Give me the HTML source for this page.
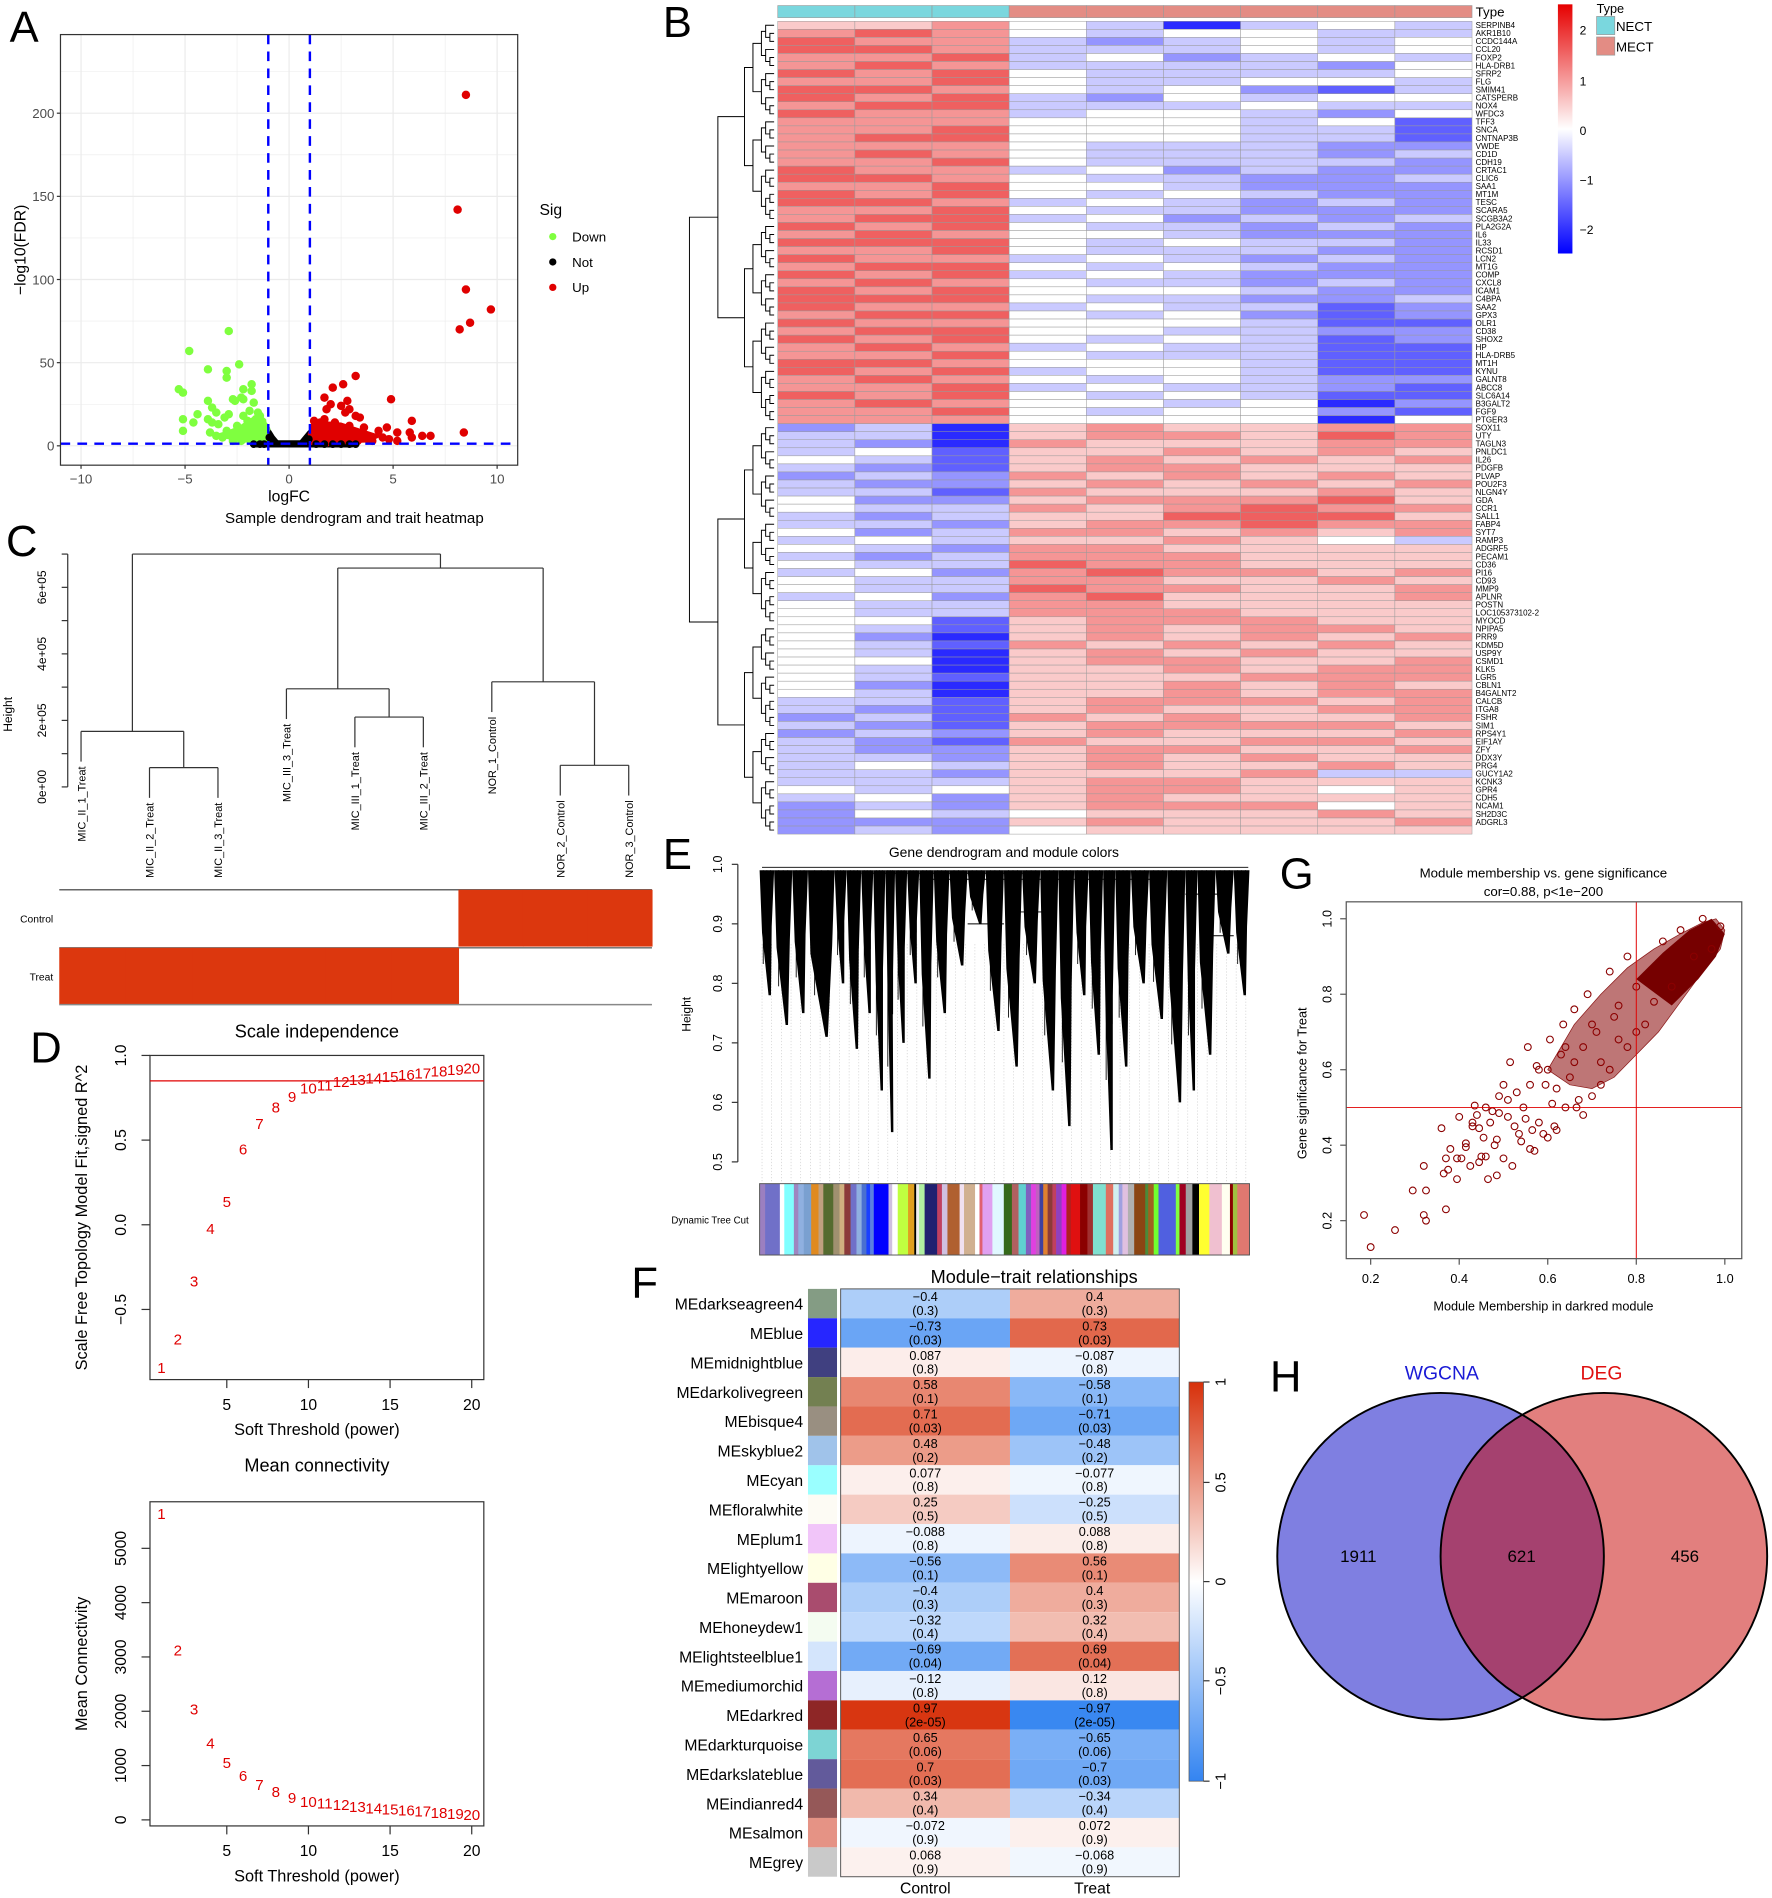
<!DOCTYPE html>
<html><head><meta charset="utf-8"><title>Multi-panel figure</title>
<style>
html,body{margin:0;padding:0;background:#fff;}
svg{display:block;font-family:"Liberation Sans",Arial,sans-serif;}
</style></head>
<body>
<svg id="fig" xmlns="http://www.w3.org/2000/svg" width="1772" height="1898" viewBox="0 0 1465 1568">
<rect x="0" y="0" width="1465" height="1568" fill="#fff"/>
<g font-size="36" fill="#000">
<text x="8" y="34">A</text>
<text x="548" y="30">B</text>
<text x="5" y="459">C</text>
<text x="25" y="878">D</text>
<text x="548" y="718">E</text>
<text x="522" y="1072">F</text>
<text x="1058" y="734">G</text>
<text x="1050" y="1150">H</text>
</g>
<g id="pA"></g>
<g id="pB"></g>
<g id="pC"></g>
<g id="pD"></g>
<g id="pD2"></g>
<g id="pE"></g>
<g id="pF"></g>
<g id="pG"></g>
<g id="pH"></g>
</svg>
<script>
// ===== DATA =====
const volcGreenX=[-2.9,-4.8,-3.9,-2.4,-3,-3,-5.3,-5.1,-1.8,-2.2,-1.8,-3.9,-2.7,-2.3,-2.2,-2.6,-1.7,-3.7,-3.5,-4.4,-5.1,-4.6,-3.9,-3.7,-3.4,-2.9,-3.1,-5.1,-3.8,-2.2,-1.9,-1.5,-1.6,-2.5,-2,-1.5,-3,-2.8,-1.3,-1.2,-1.7,-2.2,-1.4,-2.5,-1.1,-3.5,-1.8,-1.3,-1.6,-2.0,-1.2,-1.4,-1.9,-2.3,-1.1,-1.5,-2.7,-3.2,-1.3,-1.7];
const volcGreenY=[69,57,46,49,45,41,34,32,37,34,33,27,28,29,28,27,26,23,20,19,16,14,16,14,13,19,17,9,8,18,21,20,16,12,10,11,9,6,14,8,5,4,3,7,4,6,9,6,13,15,12,18,7,3,10,2,3,5,2,3];
const volcRedX=[8.5,8.1,8.5,9.7,8.7,8.2,8.4,3.2,2.6,2.1,1.7,2.8,4.9,2,2.5,2.9,2.7,1.8,3.2,3.4,5.9,3.6,4.7,4.3,5.2,5.8,5.9,6.4,6.8,4.5,1.5,1.3,1.2,2.2,1.7,2.4,3,3.8,4,1.4,2,2.7,3.3,1.1,1.8,2.5,3.1,4.8,5.2,1.2,1.6,2.3,1.4,3.6,2.9,1.9,1.1,2.6,3.9,1.3];
const volcRedY=[211,142,94,82,74,70,8,42,37,35,29,27,28,25,24,22,20,22,18,17,15,11,11,9,8,8,5,6,6,5,14,12,9,14,16,10,8,5,3,5,6,4,3,3,2,2,6,4,3,15,10,7,8,7,12,4,7,3,4,2];
const volcNotX=[-1,-0.9,-0.8,-0.7,-0.6,-0.5,-0.4,-0.3,-0.2,-0.1,0,0.1,0.2,0.3,0.4,0.5,0.6,0.7,0.8,0.9,1,-1.7,-1.4,-1.2,1.3,1.7,2.1,2.5,2.9,3.2,-0.95,0.95];
const volcNotY=[13,10,8,6,4.5,3,2,1.2,0.6,0.3,0.2,0.3,0.6,1.2,2,3,4.5,6,7.5,9,10,1,1,1,1,1,1,1,1,1,5,4];

const heatGenes=["SERPINB4","AKR1B10","CCDC144A","CCL20","FOXP2","HLA-DRB1","SFRP2","FLG","SMIM41","CATSPERB","NOX4","WFDC3","TFF3","SNCA","CNTNAP3B","VWDE","CD1D","CDH19","CRTAC1","CLIC6","SAA1","MT1M","TESC","SCARA5","SCGB3A2","PLA2G2A","IL6","IL33","RCSD1","LCN2","MT1G","COMP","CXCL8","ICAM1","C4BPA","SAA2","GPX3","OLR1","CD38","SHOX2","HP","HLA-DRB5","MT1H","KYNU","GALNT8","ABCC8","SLC6A14","B3GALT2","FGF9","PTGER3","SOX11","UTY","TAGLN3","PNLDC1","IL26","PDGFB","PLVAP","POU2F3","NLGN4Y","GDA","CCR1","SALL1","FABP4","SYT7","RAMP3","ADGRF5","PECAM1","CD36","PI16","CD93","MMP9","APLNR","POSTN","LOC105373102-2","MYOCD","NPIPA5","PRR9","KDM5D","USP9Y","CSMD1","KLK5","LGR5","CBLN1","B4GALNT2","CALCB","ITGA8","FSHR","SIM1","RPS4Y1","EIF1AY","ZFY","DDX3Y","PRG4","GUCY1A2","KCNK3","GPR4","CDH5","NCAM1","SH2D3C","ADGRL3"];
const heatRows=["556430343","676434433","766323434","776333434","667342343","676333324","767433334","667433443","776434213","767324344","677333433","766344324","666444341","667444331","677444331","666433322","676433323","667433332","766342322","776433223","667443222","767434322","776343232","667433222","677342323","767433232","676443222","777434332","667433322","766343232","677434322","767343222","676433232","767444322","777433223","766343312","677434212","766444311","677443322","767434312","676343311","667433311","776444311","767344311","676434322","667343321","767434311","676443402","667434421","666444404","230565566","330566576","320655566","341556565","431565656","321566555","232656565","322565656","331655565","422566675","433656766","323557775","332566766","423665656","343556543","432665555","323666555","433766555","342676656","433665565","433766556","342675556","433665555","433666555","441566655","431565665","420565656","431656565","430565655","440566556","430556566","431555666","420556565","430556566","331566656","321565566","231656556","321566665","232565556","321655665","322566556","332565655","343565565","332555633","333566555","434566545","342565555","232566645","243455565","222565556","232455555"];

const sampleNames=["MIC_II_1_Treat","MIC_II_2_Treat","MIC_II_3_Treat","MIC_III_3_Treat","MIC_III_1_Treat","MIC_III_2_Treat","NOR_1_Control","NOR_2_Control","NOR_3_Control"];
const sampleMerges=[[-2,-3,58000],[-1,1,167000],[-5,-6,210000],[-4,3,295000],[-8,-9,65000],[-7,5,316000],[4,6,658000],[2,7,700000]];
const sampleTicks=[0,200000,400000,600000];
const sampleTickLabels=["0e+00","2e+05","4e+05","6e+05"];

const powers=[1,2,3,4,5,6,7,8,9,10,11,12,13,14,15,16,17,18,19,20];
const scaleFitR2=[-0.84,-0.67,-0.33,-0.02,0.14,0.45,0.6,0.7,0.76,0.81,0.83,0.85,0.86,0.87,0.88,0.89,0.9,0.91,0.92,0.93];
const meanConn=[5650,3140,2050,1430,1070,830,660,530,420,350,320,290,260,230,210,190,170,150,130,110];

const eClusterStart=[628,640,655,668,690,700,712,722,732,740,750,760,772,785,800,815,830,845,860,875,888,900,912,922,935,950,965,980,990,1005,1020];
const eClusterEnd=[640,655,668,690,700,712,722,732,740,750,760,772,785,800,815,830,845,860,875,888,900,912,922,935,950,965,980,990,1005,1020,1033];
const eClusterMinH=[0.78,0.73,0.75,0.71,0.8,0.69,0.75,0.62,0.55,0.7,0.8,0.64,0.75,0.83,0.9,0.72,0.66,0.8,0.62,0.56,0.78,0.68,0.52,0.66,0.8,0.74,0.6,0.62,0.68,0.85,0.78];
const eStripePos=[215,230,270,282,308,320,335,355,375,388,415,432,445,462,478,492,505,515,525,565,575,590,618,635,640,648,663,697,710,725,758,770,800,812,820,847,878,900,918,938,952,965,975,985,997,1010,1020,1035,1048,1060,1085,1105,1120,1155,1175,1190,1200,1215,1232,1262,1270,1285,1298,1345,1355,1372,1390,1408,1436,1470,1492,1500,1512,1545];
const eStripeCol=["#9b7fc0","#7070c8","#ffffff","#80ffff","#9e86c0","#8fb0e0","#7aa0d0","#e08a20","#c0a080","#556b2f","#a09070","#d0b080","#8b3a3a","#7070c8","#8fb0e0","#4a70d0","#1a40ff","#5a80e0","#0000ff","#d0c0e0","#ffffff","#c0ff40","#e0a020","#000000","#f0f0f0","#b0f0a0","#202070","#c04060","#d0c0e0","#b06030","#f0e0f0","#d0b090","#ffffff","#e06070","#e0a0f0","#e0f8ff","#356a1a","#b06060","#60d0d0","#8060c0","#e040e0","#c060c0","#4040a0","#e08030","#8b3a3a","#c04060","#9040c0","#e020e0","#b02020","#e01010","#8b0000","#a03030","#80e0d0","#e07060","#d0f0f0","#a0a0e0","#e0c0e0","#b0b0b0","#8b4513","#4a8a3a","#a06020","#70ff30","#5060e0","#80ff40","#a00020","#a0a0a0","#000000","#ffff30","#f0c0d0","#fffff0","#8b0000","#a0c040","#e07870"];

const moduleNames=["MEdarkseagreen4","MEblue","MEmidnightblue","MEdarkolivegreen","MEbisque4","MEskyblue2","MEcyan","MEfloralwhite","MEplum1","MElightyellow","MEmaroon","MEhoneydew1","MElightsteelblue1","MEmediumorchid","MEdarkred","MEdarkturquoise","MEdarkslateblue","MEindianred4","MEsalmon","MEgrey"];
const moduleColors=["#6f8b6f","#0000ff","#1e1e6a","#5a6a33","#877b6b","#8fb8e6","#88ffff","#fdfaf2","#eebbf8","#ffffe0","#9a2d55","#f2fbee","#cce0fc","#a855cc","#7a0000","#66cccc","#463d8a","#823b3b","#e08070","#c0c0c0"];
const corControl=[-0.4,-0.73,0.087,0.58,0.71,0.48,0.077,0.25,-0.088,-0.56,-0.4,-0.32,-0.69,-0.12,0.97,0.65,0.7,0.34,-0.072,0.068];
const corTreat=[0.4,0.73,-0.087,-0.58,-0.71,-0.48,-0.077,-0.25,0.088,0.56,0.4,0.32,0.69,0.12,-0.97,-0.65,-0.7,-0.34,0.072,-0.068];
const pvals=["0.3","0.03","0.8","0.1","0.03","0.2","0.8","0.5","0.8","0.1","0.3","0.4","0.04","0.8","2e-05","0.06","0.03","0.4","0.9","0.9"];

const gsMM=[0.185,0.2,0.255,0.295,0.32,0.325,0.325,0.32,0.365,0.37,0.37,0.375,0.38,0.36,0.4,0.395,0.395,0.405,0.415,0.415,0.425,0.43,0.43,0.435,0.44,0.445,0.445,0.45,0.455,0.46,0.46,0.465,0.47,0.475,0.48,0.485,0.485,0.49,0.49,0.5,0.5,0.51,0.51,0.515,0.52,0.525,0.53,0.535,0.54,0.545,0.55,0.555,0.56,0.565,0.57,0.575,0.58,0.59,0.595,0.6,0.605,0.61,0.615,0.62,0.63,0.635,0.64,0.65,0.66,0.665,0.67,0.68,0.69,0.7,0.71,0.72,0.74,0.75,0.76,0.78,0.8,0.82,0.56,0.58,0.6,0.62,0.64,0.66,0.68,0.7,0.72,0.74,0.76,0.78,0.8,0.84,0.86,0.88,0.9,0.93,0.95,0.97,0.99];
const gsGS=[0.215,0.13,0.175,0.28,0.215,0.2,0.28,0.345,0.325,0.23,0.365,0.335,0.39,0.445,0.475,0.31,0.365,0.365,0.405,0.395,0.345,0.45,0.46,0.505,0.48,0.445,0.355,0.37,0.42,0.37,0.5,0.31,0.46,0.49,0.4,0.415,0.32,0.53,0.485,0.56,0.365,0.52,0.475,0.62,0.345,0.45,0.54,0.43,0.41,0.5,0.47,0.66,0.39,0.44,0.385,0.61,0.46,0.43,0.56,0.42,0.68,0.51,0.45,0.44,0.64,0.72,0.5,0.58,0.76,0.5,0.52,0.48,0.8,0.53,0.7,0.62,0.86,0.74,0.68,0.9,0.82,0.72,0.56,0.6,0.6,0.55,0.66,0.62,0.66,0.72,0.56,0.6,0.77,0.66,0.7,0.78,0.94,0.82,0.97,0.9,1.0,0.92,0.98];
const blobMM=[0.6,0.66,0.72,0.78,0.84,0.9,0.95,0.98,1.0,0.99,0.95,0.9,0.85,0.8,0.75,0.7,0.65];
const blobGS=[0.6,0.72,0.8,0.87,0.92,0.96,0.99,1.0,0.97,0.92,0.86,0.78,0.7,0.64,0.58,0.55,0.56];
const coreMM=[0.8,0.86,0.92,0.97,1.0,0.98,0.94,0.88];
const coreGS=[0.84,0.91,0.97,1.0,0.96,0.9,0.84,0.77];

const vennSets=["WGCNA","DEG"];
const vennCounts=[1911,621,456];

// ===== HELPERS =====
const NS="http://www.w3.org/2000/svg";
function mk(tag,attrs,parent){const e=document.createElementNS(NS,tag);for(const k in attrs)e.setAttribute(k,attrs[k]);parent.appendChild(e);return e;}
function txt(s,attrs,parent){const e=mk('text',attrs,parent);e.textContent=s;return e;}

// ===== A: volcano =====
(function(){
const g=document.getElementById('pA');
const xA=v=>239+v*17.2, yA=v=>368-v*1.375;
const L=50,R=428,T=28,B=384;
for(let v=-10;v<=10;v+=2.5){const l=mk('line',{x1:xA(v),x2:xA(v),y1:T,y2:B,stroke:'#ebebeb','stroke-width':(v%5===0)?1:0.5},g);}
for(let v=0;v<=225;v+=25){if(yA(v)<T)continue;const l=mk('line',{x1:L,x2:R,y1:yA(v),y2:yA(v),stroke:'#ebebeb','stroke-width':(v%50===0)?1:0.5},g);}
let pts=[];for(let i=0;i<=20;i++){pts.push([volcNotX[i],volcNotY[i]]);}
const poly=mk('polygon',{points:pts.map(p=>xA(p[0])+','+yA(p[1])).join(' ')+' '+xA(1)+','+yA(0)+' '+xA(-1)+','+yA(0),fill:'#000'},g);

const line=mk('rect',{x:xA(-1.75),y:yA(1.2)-3,width:xA(3.2)-xA(-1.75),height:6,rx:3,fill:'#000'},g);

for(let i=0;i<volcGreenX.length;i++){const c=mk('circle',{cx:xA(volcGreenX[i]),cy:yA(volcGreenY[i]),r:3.5,fill:'#7fff3f'},g);}
const gm=mk('polygon',{points:[[-1.1,16],[-1.4,19],[-1.8,17],[-2.4,12],[-3,9],[-3.8,6],[-2.5,3],[-1.6,1],[-1,1]].map(p=>xA(p[0])+','+yA(p[1])).join(' '),fill:'#7fff3f'},g);

const rm=mk('polygon',{points:[[1,13],[1.5,15],[2.5,14],[3.5,10],[4.5,6],[3.8,2],[2.5,1.5],[1,1]].map(p=>xA(p[0])+','+yA(p[1])).join(' '),fill:'#e00000'},g);

for(let i=0;i<volcRedX.length;i++){const c=mk('circle',{cx:xA(volcRedX[i]),cy:yA(volcRedY[i]),r:3.5,fill:'#e00000'},g);}
for(let i=21;i<volcNotX.length;i++){const c=mk('circle',{cx:xA(volcNotX[i]),cy:yA(volcNotY[i]),r:3.2,fill:'#000'},g);}
[[xA(-1),T,xA(-1),B],[xA(1),T,xA(1),B],[L,yA(1.3),R,yA(1.3)]].forEach(a=>{const l=mk('line',{x1:a[0],y1:a[1],x2:a[2],y2:a[3],stroke:'#0000ff','stroke-width':2,'stroke-dasharray':'8,6'},g);});
const box=mk('rect',{x:L,y:T,width:R-L,height:B-T,fill:'none',stroke:'#333','stroke-width':1},g);
[-10,-5,0,5,10].forEach(v=>{const t=txt(v<0?'\u2212'+(-v):String(v),{x:xA(v),y:399,'font-size':11,fill:'#4d4d4d','text-anchor':'middle'},g);const k=mk('line',{x1:xA(v),x2:xA(v),y1:B,y2:B+3,stroke:'#333'},g);});
[0,50,100,150,200].forEach(v=>{const t=txt(String(v),{x:45,y:yA(v)+4,'font-size':11,fill:'#4d4d4d','text-anchor':'end'},g);const k=mk('line',{x1:L-3,x2:L,y1:yA(v),y2:yA(v),stroke:'#333'},g);});
let t=txt('logFC',{x:239,y:414,'font-size':13,'text-anchor':'middle'},g);
t=txt('\u2212log10(FDR)',{x:0,y:0,'font-size':13,'text-anchor':'middle',transform:'translate(21,206) rotate(-90)'},g);
t=txt('Sig',{x:446,y:177,'font-size':13},g);
[['Down','#7fff3f',195],['Not','#000',216],['Up','#e00000',237]].forEach(a=>{const c=mk('circle',{cx:457,cy:a[2],r:3,fill:a[1]},g);const tt=txt(a[0],{x:473,y:a[2]+4,'font-size':11},g);});
})();

// ===== B: gene heatmap =====
(function(){
const g=document.getElementById('pB');
const X0=643,X1=1217,Y0=17,Y1=689,nC=9,nR=heatRows.length;
const cw=(X1-X0)/nC, rh=(Y1-Y0)/nR;
function hc(v){const t=Math.min(1,Math.abs(v)/2.4);const w=Math.round(255*(1-t));return v>=0?`rgb(${Math.round(255-t*25)},${w},${w})`:`rgb(${w},${w},255)`;}
for(let c=0;c<nC;c++){const a=mk('rect',{x:X0+c*cw,y:4,width:cw,height:10,fill:c<3?'#7ad7de':'#e38c84',stroke:'#999','stroke-width':0.5},g);}
for(let r=0;r<nR;r++){for(let c=0;c<nC;c++){const v=(parseInt(heatRows[r][c])-4)*0.5;const e=mk('rect',{x:X0+c*cw,y:Y0+r*rh,width:cw,height:rh,fill:hc(v),stroke:'#999','stroke-width':0.4},g);}
const t=txt(heatGenes[r],{x:1220,y:Y0+r*rh+rh*0.85,'font-size':6.6},g);}
let t=txt('Type',{x:1220,y:13,'font-size':11},g);
function dn(lo,hi,depth){if(hi-lo===1)return{y:Y0+(lo+0.5)*rh,x:640};
 const mid=(lo===0&&hi===nR)?50:Math.floor((lo+hi)/2);const a=dn(lo,mid,depth+1),b=dn(mid,hi,depth+1);
 let x=Math.min(a.x,b.x)-(hi-lo>40?22:(hi-lo>10?7:3.5));if(lo===0&&hi===nR)x=570;
 const p=mk('path',{d:`M${a.x},${a.y}H${x}V${b.y}H${b.x}`,fill:'none',stroke:'#000','stroke-width':0.8},g);
 return{y:(a.y+b.y)/2,x:x};}
dn(0,nR,0);
const defs=mk('defs',{},g);const lg=mk('linearGradient',{id:'gB',x1:0,y1:0,x2:0,y2:1},defs);
mk('stop',{offset:'0','stop-color':'#e60000'},lg);mk('stop',{offset:'0.5','stop-color':'#ffffff'},lg);mk('stop',{offset:'1','stop-color':'#0000ff'},lg);
const cb=mk('rect',{x:1288,y:3,width:12,height:206,fill:'url(#gB)'},g);
[[2,24],[1,66],[0,107],[-1,148],[-2,189]].forEach(a=>{const tt=txt(a[0]<0?'\u2212'+(-a[0]):String(a[0]),{x:1306,y:a[1]+4,'font-size':10},g);});
t=txt('Type',{x:1320,y:10,'font-size':10.5},g);
[['NECT','#7ad7de',13],['MECT','#e38c84',30]].forEach(a=>{const r=mk('rect',{x:1320,y:a[2],width:15,height:15,fill:a[1],stroke:'#999','stroke-width':0.6},g);const tt=txt(a[0],{x:1336,y:a[2]+12,'font-size':11},g);});
})();

// ===== C: sample dendrogram =====
(function(){
const g=document.getElementById('pC');
const yH=h=>650-h*0.000275;
const leafX=i=>67+i*56.6;
let t=txt('Sample dendrogram and trait heatmap',{x:293,y:432,'font-size':12.5,'text-anchor':'middle'},g);
const ax=mk('line',{x1:56,x2:56,y1:yH(0),y2:yH(700000),stroke:'#333'},g);
for(let h=0;h<=700000;h+=100000){const k=mk('line',{x1:51,x2:56,y1:yH(h),y2:yH(h),stroke:'#333'},g);}
sampleTicks.forEach((v,i)=>{const tt=txt(sampleTickLabels[i],{x:0,y:0,'font-size':10,'text-anchor':'middle',transform:`translate(38,${yH(v)}) rotate(-90)`},g);});
t=txt('Height',{x:0,y:0,'font-size':10,'text-anchor':'middle',transform:'translate(10,590) rotate(-90)'},g);
const nodes=[];
sampleMerges.forEach((m,k)=>{
 const h=m[2];const ends=[];
 m.slice(0,2).forEach(id=>{if(id<0){const i=-id-1;const lx=leafX(i);const lb=yH(h)+25;ends.push(lx);const l=mk('line',{x1:lx,x2:lx,y1:yH(h),y2:lb,stroke:'#333'},g);
  const tt=txt(sampleNames[i],{x:0,y:0,'font-size':9,'text-anchor':'end',transform:`translate(${lx+3.5},${lb+4}) rotate(-90)`},g);}
  else{const n=nodes[id-1];ends.push(n.x);const l=mk('line',{x1:n.x,x2:n.x,y1:yH(h),y2:yH(n.h),stroke:'#333'},g);}});
 const hl=mk('line',{x1:ends[0],x2:ends[1],y1:yH(h),y2:yH(h),stroke:'#333'},g);
 nodes.push({x:(ends[0]+ends[1])/2,h:h});});
[['Control',735,[0,0,0,0,0,0,1,1,1]],['Treat',783,[1,1,1,1,1,1,0,0,0]]].forEach(row=>{
 const ln=mk('line',{x1:49,x2:539,y1:row[1],y2:row[1],stroke:'#666','stroke-width':1.2},g);
 row[2].forEach((v,i)=>{if(v){const x0=i<6?49+i*(330/6):379+(i-6)*(160/3);const r=mk('rect',{x:x0,y:row[1],width:i<6?330/6+0.5:160/3+0.5,height:47,fill:'#dc370e'},g);}});
 const tt=txt(row[0],{x:44,y:row[1]+27,'font-size':8.5,'text-anchor':'end'},g);});
const lb=mk('line',{x1:49,x2:539,y1:830,y2:830,stroke:'#888','stroke-width':1.2},g);
})();

// ===== D =====
(function(){
function panel(gid,T,B,yF,yTicks,yLabs,vals,title,ytitle,hline){
 const g=document.getElementById(gid);const L=124,R=400;const xD=p=>120+p*13.5;
 const b=mk('rect',{x:L,y:T,width:R-L,height:B-T,fill:'none',stroke:'#333','stroke-width':1},g);
 let t=txt(title,{x:262,y:gid==='pD'?857:1216,'font-size':15,'text-anchor':'middle'},g);
 [5,10,15,20].forEach(p=>{const k=mk('line',{x1:xD(p),x2:xD(p),y1:B,y2:B+7,stroke:'#333'},g);const tt=txt(String(p),{x:xD(p),y:B+25,'font-size':13,'text-anchor':'middle'},g);});
 yTicks.forEach((v,i)=>{const k=mk('line',{x1:L-7,x2:L,y1:yF(v),y2:yF(v),stroke:'#333'},g);const tt=txt(yLabs[i],{x:0,y:0,'font-size':13,'text-anchor':'middle',transform:`translate(104,${yF(v)}) rotate(-90)`},g);});
 t=txt('Soft Threshold (power)',{x:262,y:B+46,'font-size':13.5,'text-anchor':'middle'},g);
 t=txt(ytitle,{x:0,y:0,'font-size':13.5,'text-anchor':'middle',transform:`translate(72,${(T+B)/2}) rotate(-90)`},g);
 if(hline!==null){const l=mk('line',{x1:L,x2:R,y1:yF(hline),y2:yF(hline),stroke:'#e00000','stroke-width':1},g);}
 powers.forEach((p,i)=>{const tt=txt(String(p),{x:xD(p),y:yF(vals[i])+5,'font-size':12.5,fill:'#e00000','text-anchor':'middle'},g);});
}
panel('pD',872,1140,v=>1012-v*140,[-0.5,0,0.5,1],['\u22120.5','0.0','0.5','1.0'],scaleFitR2,'Scale independence','Scale Free Topology Model Fit,signed R^2',0.85);
panel('pD2',1241,1509,v=>1504-v*0.0449,[0,1000,2000,3000,4000,5000],['0','1000','2000','3000','4000','5000'],meanConn,'Mean connectivity','Mean Connectivity',null);
})();

// ===== E: gene dendrogram =====
(function(){
const g=document.getElementById('pE');
const yE=h=>960-(h-0.5)*492;
let t=txt('Gene dendrogram and module colors',{x:830,y:708,'font-size':11.5,'text-anchor':'middle'},g);
const ax=mk('line',{x1:610,x2:610,y1:yE(1),y2:yE(0.5),stroke:'#333'},g);
[0.5,0.6,0.7,0.8,0.9,1.0].forEach(v=>{const k=mk('line',{x1:605,x2:610,y1:yE(v),y2:yE(v),stroke:'#333'},g);const tt=txt(v.toFixed(1),{x:0,y:0,'font-size':10.5,'text-anchor':'middle',transform:`translate(597,${yE(v)}) rotate(-90)`},g);});
t=txt('Height',{x:0,y:0,'font-size':10,'text-anchor':'middle',transform:'translate(571,838) rotate(-90)'},g);
for(let x=630;x<1033;x+=8){const l=mk('line',{x1:x,x2:x,y1:780,y2:977,stroke:'#c8c8c8','stroke-width':0.5,'stroke-dasharray':'1,1.5'},g);}
const top=mk('path',{d:`M630,${yE(0.995)}H1032M712,${yE(0.985)}H850M760,${yE(0.975)}H960M800,${yE(0.9)}H830M840,${yE(0.92)}H870M980,${yE(0.95)}H1015M1000,${yE(0.88)}H1020`,stroke:'#000','stroke-width':0.8,fill:'none'},g);
for(let c=0;c<eClusterStart.length;c++){
 const x0=eClusterStart[c],x1=eClusterEnd[c],mh=eClusterMinH[c];
 const mid=x0+(x1-x0)*0.7;
 const p=mk('polygon',{points:`${x0},${yE(0.99)} ${x1},${yE(0.99)} ${x1-2},${yE(mh+(0.99-mh)*0.55)} ${mid+1},${yE(mh)} ${mid-1},${yE(mh)} ${x0+2},${yE(mh+(0.99-mh)*0.5)}`,fill:'#000'},g);
 
 for(let k=1;k<4;k++){const xx=x0+(x1-x0)*k/4;const v=mk('line',{x1:xx,x2:xx,y1:yE(0.99),y2:yE(mh+(0.99-mh)*(0.15+0.1*k)),stroke:'#000','stroke-width':0.7},g);}
}
const bx=p=>628+(p-215)*(405/1330);
for(let i=0;i<eStripeCol.length;i++){const r=mk('rect',{x:bx(eStripePos[i]),y:978,width:bx(eStripePos[i+1])-bx(eStripePos[i])+0.3,height:59,fill:eStripeCol[i]},g);}
const fr=mk('rect',{x:628,y:978,width:405,height:59,fill:'none',stroke:'#555','stroke-width':0.8},g);
t=txt('Dynamic Tree Cut',{x:587,y:1011,'font-size':8,'text-anchor':'middle'},g);
})();

// ===== F =====
(function(){
const g=document.getElementById('pF');
const X0=695,cw=140,Y0=1065,rh=(1551-1065)/moduleNames.length;
function fc(v){const t=Math.min(1,Math.abs(v));return v>=0?`rgb(${Math.round(255-t*40)},${Math.round(255-t*207)},${Math.round(255-t*245)})`:`rgb(${Math.round(255-t*204)},${Math.round(255-t*123)},${Math.round(255-t*14)})`;}
let t=txt('Module\u2212trait relationships',{x:855,y:1060,'font-size':15,'text-anchor':'middle'},g);
const fmt=v=>v<0?'\u2212'+String(-v):String(v);
moduleNames.forEach((n,i)=>{const y=Y0+i*rh;
 const s=mk('rect',{x:668,y:y,width:24,height:rh,fill:moduleColors[i],opacity:0.85},g);
 const l=txt(n,{x:664,y:y+rh/2+5,'font-size':13,'text-anchor':'end'},g);
 [corControl[i],corTreat[i]].forEach((v,c)=>{const r=mk('rect',{x:X0+c*cw,y:y,width:cw,height:rh,fill:fc(v)},g);
  const a=txt(fmt(v),{x:X0+c*cw+70,y:y+10,'font-size':10.5,'text-anchor':'middle'},g);
  const b=txt('('+pvals[i]+')',{x:X0+c*cw+70,y:y+21.5,'font-size':10.5,'text-anchor':'middle'},g);});});
const fr=mk('rect',{x:X0,y:Y0,width:280,height:1551-Y0,fill:'none',stroke:'#555','stroke-width':0.8},g);
[['Control',765],['Treat',903]].forEach(a=>{const tt=txt(a[0],{x:a[1],y:1565,'font-size':13,'text-anchor':'middle'},g);});
const defs=mk('defs',{},g);const lg=mk('linearGradient',{id:'gF',x1:0,y1:0,x2:0,y2:1},defs);
mk('stop',{offset:'0','stop-color':fc(1)},lg);mk('stop',{offset:'0.5','stop-color':'#fff'},lg);mk('stop',{offset:'1','stop-color':fc(-1)},lg);
const cb=mk('rect',{x:983,y:1142,width:12,height:330,fill:'url(#gF)',stroke:'#555','stroke-width':0.6},g);
[[1,1142,'1'],[0.5,1225,'0.5'],[0,1307,'0'],[-0.5,1389,'\u22120.5'],[-1,1472,'\u22121']].forEach(a=>{const k=mk('line',{x1:995,x2:1000,y1:a[1],y2:a[1],stroke:'#333'},g);const tt=txt(a[2],{x:0,y:0,'font-size':12,'text-anchor':'middle',transform:`translate(1013,${a[1]}) rotate(-90)`},g);});
})();

// ===== G =====
(function(){
const g=document.getElementById('pG');
const xG=v=>1060+v*366, yG=v=>1071-v*312;
let t=txt('Module membership vs. gene significance',{x:1276,y:725,'font-size':11,'text-anchor':'middle'},g);
t=txt('cor=0.88, p<1e\u2212200',{x:1276,y:740,'font-size':11,'text-anchor':'middle'},g);
const bl=mk('polygon',{points:blobMM.map((m,i)=>xG(m)+','+yG(blobGS[i])).join(' '),fill:'#a84848','fill-opacity':0.75,stroke:'#8b1a1a','stroke-width':0.6},g);
const co=mk('polygon',{points:coreMM.map((m,i)=>xG(m)+','+yG(coreGS[i])).join(' '),fill:'#760000'},g);
gsMM.forEach((m,i)=>{const c=mk('circle',{cx:xG(m),cy:yG(gsGS[i]),r:2.8,fill:'none',stroke:'#8b0000','stroke-width':0.9},g);});
[[xG(0.8),745,xG(0.8),1040],[1113,yG(0.5),1440,yG(0.5)]].forEach(a=>{const l=mk('line',{x1:a[0],y1:a[1],x2:a[2],y2:a[3],stroke:'#e00000','stroke-width':0.8},g);});
const b=mk('rect',{x:1113,y:745,width:327,height:295,fill:'none',stroke:'#555','stroke-width':1},g);
[0.2,0.4,0.6,0.8,1.0].forEach(v=>{const k=mk('line',{x1:xG(v),x2:xG(v),y1:1040,y2:1045,stroke:'#555'},g);const tt=txt(v.toFixed(1),{x:xG(v),y:1060,'font-size':10.5,'text-anchor':'middle'},g);
 const k2=mk('line',{x1:1108,x2:1113,y1:yG(v),y2:yG(v),stroke:'#555'},g);const t2=txt(v.toFixed(1),{x:0,y:0,'font-size':10.5,'text-anchor':'middle',transform:`translate(1101,${yG(v)}) rotate(-90)`},g);});
t=txt('Module Membership in darkred module',{x:1276,y:1083,'font-size':10.5,'text-anchor':'middle'},g);
t=txt('Gene significance for  Treat',{x:0,y:0,'font-size':10.5,'text-anchor':'middle',transform:'translate(1080,895) rotate(-90)'},g);
})();

// ===== H =====
(function(){
const g=document.getElementById('pH');
const cL=1191,cR=1326,cy=1286,r=135;
const defs=mk('defs',{},g);const cp=mk('clipPath',{id:'clipL'},defs);mk('circle',{cx:cL,cy:cy,r:r},cp);
let c=mk('circle',{cx:cL,cy:cy,r:r,fill:'#7f7fe1'},g);
c=mk('circle',{cx:cR,cy:cy,r:r,fill:'#e27f7e'},g);
c=mk('circle',{cx:cR,cy:cy,r:r,fill:'#a5416f','clip-path':'url(#clipL)'},g);
[cL,cR].forEach(x=>{const o=mk('circle',{cx:x,cy:cy,r:r,fill:'none',stroke:'#000','stroke-width':1.6},g);});
let t=txt(vennSets[0],{x:1192,y:1140,'font-size':16,fill:'#1a1ad6','text-anchor':'middle'},g);
t=txt(vennSets[1],{x:1324,y:1140,'font-size':16,fill:'#e01010','text-anchor':'middle'},g);
[[1123,vennCounts[0]],[1258,vennCounts[1]],[1393,vennCounts[2]]].forEach(a=>{const tt=txt(String(a[1]),{x:a[0],y:1291,'font-size':14,'text-anchor':'middle'},g);});
})();
</script>
</body></html>
